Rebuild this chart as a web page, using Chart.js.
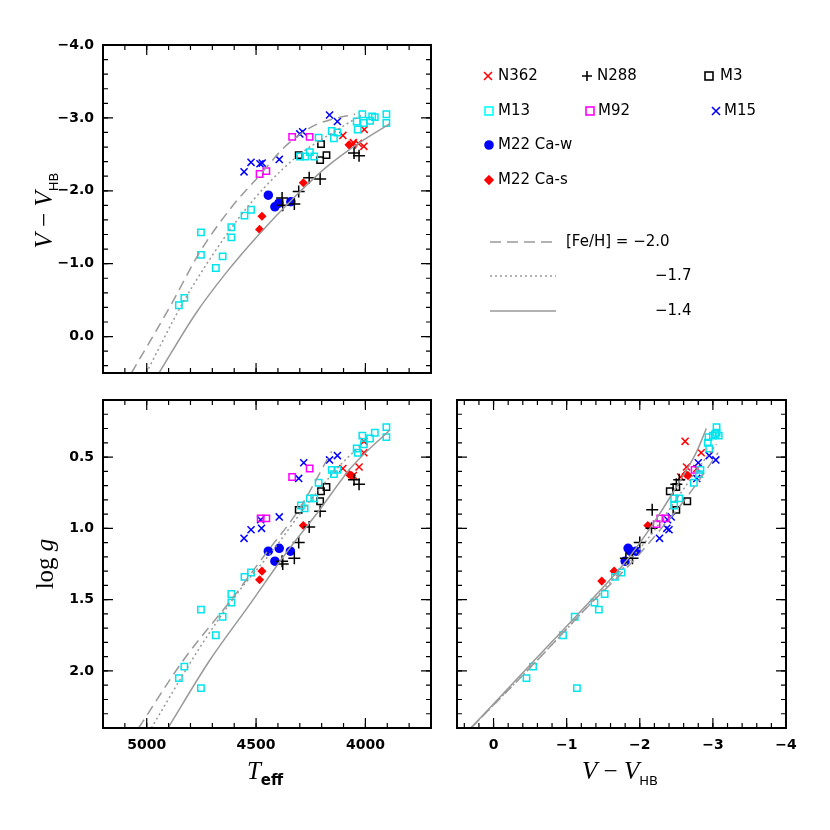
<!DOCTYPE html>
<html><head><meta charset="utf-8">
<script src="https://cdn.jsdelivr.net/npm/chart.js@4/dist/chart.umd.min.js"></script>
<style>
body{margin:0;width:830px;height:830px;background:#fff;position:relative;overflow:hidden;font-family:"DejaVu Sans",sans-serif}
canvas{position:absolute;left:0;top:0}
.t{position:absolute;white-space:nowrap;color:#000}
.ax{font-family:"Liberation Serif",serif;font-size:25px}
.lg{position:absolute;font-size:15px;font-family:"DejaVu Sans",sans-serif;white-space:nowrap}
svg{position:absolute}
</style></head><body>
<canvas id="c1" width="830" height="830"></canvas>
<canvas id="c2" width="830" height="830"></canvas>
<canvas id="c3" width="830" height="830"></canvas>

<div class="t ax" style="left:-20px;top:195px;transform:rotate(-90deg);width:130px;text-align:center"><i>V</i> − <i>V</i><sub style="font-size:13px;font-family:'DejaVu Sans'">HB</sub></div>
<div class="t ax" style="left:-15px;top:550px;transform:rotate(-90deg);width:120px;text-align:center">log <i>g</i></div>
<div class="t ax" style="left:205px;top:757px;width:120px;text-align:center"><i>T</i><sub style="font-size:15px;font-family:'DejaVu Sans';font-weight:bold">eff</sub></div>
<div class="t ax" style="left:555px;top:757px;width:130px;text-align:center"><i>V</i> − <i>V</i><sub style="font-size:13px;font-family:'DejaVu Sans'">HB</sub></div>

<svg width="830" height="830" style="left:0;top:0">
 <g stroke-width="1.6" fill="none">
  <path d="M484 72 l8 8 M492 72 l-8 8" stroke="#ff0000"/>
  <path d="M587 71 v10 M582 76 h10" stroke="#000"/>
  <rect x="705" y="72" width="8" height="8" stroke="#000"/>
  <rect x="485" y="107" width="8" height="8" stroke="#00ffff"/>
  <rect x="586" y="107" width="8" height="8" stroke="#ff00ff"/>
  <path d="M712 107 l8 8 M720 107 l-8 8" stroke="#0000ff"/>
  <circle cx="489" cy="145" r="4" fill="#0000ff" stroke="#0000ff"/>
  <path d="M489 176 l4 4 l-4 4 l-4 -4z" fill="#ff0000" stroke="#ff0000"/>
  <path d="M490 242 H556" stroke="#999" stroke-dasharray="11,6"/>
  <path d="M490 276 H556" stroke="#999" stroke-dasharray="2,3"/>
  <path d="M490 311 H556" stroke="#999"/>
 </g>
</svg>
<div class="lg" style="left:498px;top:66px">N362</div>
<div class="lg" style="left:597px;top:66px">N288</div>
<div class="lg" style="left:720px;top:66px">M3</div>
<div class="lg" style="left:498px;top:101px">M13</div>
<div class="lg" style="left:598px;top:101px">M92</div>
<div class="lg" style="left:724px;top:101px">M15</div>
<div class="lg" style="left:498px;top:135px">M22 Ca-w</div>
<div class="lg" style="left:498px;top:170px">M22 Ca-s</div>
<div class="lg" style="left:566px;top:232px">[Fe/H] = −2.0</div>
<div class="lg" style="left:655px;top:266px">−1.7</div>
<div class="lg" style="left:655px;top:301px">−1.4</div>

<script>
// ---------- tick labels ----------
const teffMajor = [5000, 4500, 4000];
const vhbMajorTop = [-4, -3, -2, -1, 0];
const loggMajor = [0.5, 1.0, 1.5, 2.0];
const vhbMajorBottom = [0, -1, -2, -3, -4];

// ---------- top-left: Teff vs V-VHB ----------
const tM13_T = [4752,4752,4853,4828,4684,4653,4613,4613,4553,4523,4299,4275,4254,4234,4214,4154,4144,4128,4040,4035,4014,4007,3979,3969,3957,3904,3904];
const tM13_V = [-1.43,-1.12,-0.43,-0.53,-0.94,-1.10,-1.50,-1.36,-1.66,-1.74,-2.47,-2.47,-2.53,-2.47,-2.73,-2.82,-2.72,-2.80,-2.95,-2.84,-3.05,-2.93,-2.96,-3.02,-3.01,-3.05,-2.93];
const tM92_T = [4335,4255,4484,4453];
const tM92_V = [-2.74,-2.74,-2.23,-2.27];
const tM3_T = [4305,4203,4178,4207];
const tM3_V = [-2.49,-2.64,-2.49,-2.42];
const tN288_T = [4381,4378,4325,4305,4257,4207,4052,4029];
const tN288_V = [-1.90,-1.80,-1.82,-1.99,-2.18,-2.16,-2.52,-2.48];
const tM15_T = [4555,4523,4482,4472,4394,4300,4287,4164,4128];
const tM15_V = [-2.26,-2.39,-2.37,-2.38,-2.43,-2.78,-2.81,-3.04,-2.95];
const tCaw_T = [4444,4414,4396,4341];
const tCaw_V = [-1.94,-1.78,-1.83,-1.85];
const tCas_T = [4473,4484,4284,4075];
const tCas_V = [-1.65,-1.47,-2.11,-2.63];
const tN362_T = [4103,4005,4055,4032,4007,4058];
const tN362_V = [-2.76,-2.84,-2.66,-2.65,-2.61,-2.63];
const tIso20_T = [5070,4888,4759,4608,4487,4366,4244,4154,4047];
const tIso20_V = [0.50,-0.44,-1.15,-1.79,-2.20,-2.61,-2.88,-2.98,-3.05];
const tIso17_T = [5002,4843,4714,4578,4457,4305,4154,4017];
const tIso17_V = [0.50,-0.42,-1.05,-1.63,-2.06,-2.49,-2.79,-3.04];
const tIso14_T = [4944,4775,4638,4487,4335,4184,4032,3888];
const tIso14_V = [0.50,-0.32,-0.87,-1.40,-1.88,-2.31,-2.65,-2.92];

// ---------- bottom-left: Teff vs log g ----------
const bM13_T = [4752,4752,4853,4828,4684,4653,4613,4613,4553,4523,4295,4278,4254,4234,4214,4154,4144,4128,4040,4035,4014,4007,3979,3957,3904,3904];
const bM13_G = [1.57,2.12,2.05,1.97,1.75,1.62,1.46,1.52,1.34,1.31,0.84,0.86,0.79,0.79,0.68,0.59,0.62,0.59,0.44,0.47,0.35,0.41,0.37,0.33,0.29,0.36];
const bM92_T = [4335,4255,4479,4453];
const bM92_G = [0.64,0.58,0.93,0.93];
const bM3_T = [4305,4203,4178,4207];
const bM3_G = [0.87,0.74,0.71,0.81];
const bN288_T = [4381,4378,4325,4305,4257,4207,4052,4029];
const bN288_G = [1.23,1.25,1.21,1.10,0.99,0.88,0.66,0.69];
const bM15_T = [4555,4523,4479,4475,4394,4305,4282,4164,4128];
const bM15_G = [1.07,1.01,0.94,1.00,0.92,0.65,0.54,0.52,0.49];
const bCaw_T = [4444,4414,4394,4343];
const bCaw_G = [1.16,1.23,1.14,1.16];
const bCas_T = [4473,4484,4284,4075,4063];
const bCas_G = [1.30,1.36,0.98,0.62,0.63];
const bN362_T = [4103,4029,4007,4007,4055];
const bN362_G = [0.58,0.57,0.47,0.39,0.63];
const bIso20_T = [5037,4835,4608,4457,4305,4154];
const bIso20_G = [2.40,1.93,1.49,1.18,0.87,0.46];
const bIso17_T = [4979,4759,4578,4426,4275,4123,4017];
const bIso17_G = [2.40,1.84,1.44,1.16,0.85,0.57,0.41];
const bIso14_T = [4903,4714,4532,4366,4214,4063,3888];
const bIso14_G = [2.40,1.93,1.54,1.18,0.88,0.57,0.31];

// ---------- bottom-right: V-VHB vs log g ----------
const rM13_V = [-0.45,-0.54,-0.95,-1.11,-1.14,-1.38,-1.44,-1.52,-1.66,-1.75,-2.47,-2.54,-2.47,-2.74,-2.83,-2.81,-2.95,-2.93,-2.94,-3.00,-3.05,-3.05,-3.08,-3.03];
const rM13_G = [2.05,1.97,1.75,1.62,2.12,1.52,1.57,1.46,1.34,1.31,0.79,0.79,0.84,0.68,0.59,0.62,0.44,0.40,0.36,0.35,0.33,0.29,0.35,0.34];
const rM92_V = [-2.23,-2.28,-2.35,-2.75];
const rM92_G = [0.97,0.93,0.93,0.59];
const rM3_V = [-2.41,-2.50,-2.50,-2.65];
const rM3_G = [0.74,0.71,0.87,0.81];
const rN288_V = [-1.81,-1.90,-2.00,-2.17,-2.16,-2.50,-2.54];
const rN288_G = [1.21,1.21,1.10,0.87,1.00,0.69,0.66];
const rM15_V = [-2.27,-2.37,-2.40,-2.38,-2.43,-2.78,-2.80,-2.95,-3.04];
const rM15_G = [1.07,1.00,1.01,0.94,0.92,0.65,0.54,0.49,0.52];
const rCaw_V = [-1.80,-1.84,-1.87,-1.95];
const rCaw_G = [1.23,1.14,1.16,1.16];
const rCas_V = [-1.48,-1.65,-2.11,-2.63,-2.66];
const rCas_G = [1.37,1.30,0.98,0.62,0.63];
const rN362_V = [-2.62,-2.64,-2.84,-2.56,-2.78];
const rN362_G = [0.39,0.57,0.47,0.64,0.58];
const rIso20_V = [0.31,-0.55,-1.23,-1.87,-2.23,-2.60,-2.87,-3.07];
const rIso20_G = [2.40,1.95,1.58,1.25,1.04,0.81,0.62,0.47];
const rIso17_V = [0.31,-0.55,-1.23,-1.82,-2.19,-2.55,-2.87,-3.05];
const rIso17_G = [2.40,1.95,1.58,1.25,1.02,0.76,0.53,0.41];
const rIso14_V = [0.31,-0.55,-1.23,-1.78,-2.14,-2.50,-2.78,-2.91];
const rIso14_G = [2.40,1.93,1.56,1.25,1.00,0.71,0.46,0.30];

const zip = (a, b) => a.map((v, i) => ({x: v, y: b[i]}));
const FMT = {
  v1: v => (v === 0 ? 0 : v).toFixed(1).replace('-', '−'),
  int: v => String(v).replace('-', '−'),
  g: v => v.toFixed(1)
};

function pts(xs, ys, style, color, filled, r) {
  return {data: zip(xs, ys), pointStyle: style, pointRadius: r || 4.5, borderColor: color,
    backgroundColor: filled ? color : 'rgba(0,0,0,0)', pointBorderWidth: 1.5, showLine: false};
}
function iso(xs, ys, dash) {
  return {data: zip(xs, ys), showLine: true, pointRadius: 0, borderColor: '#999999', borderWidth: 1.5,
    borderDash: dash, cubicInterpolationMode: 'monotone', fill: false};
}
function sets(p) {
  return [
    iso(p[8][0], p[8][1], [10, 6]), iso(p[9][0], p[9][1], [2, 3]), iso(p[10][0], p[10][1], []),
    pts(p[0][0], p[0][1], 'rect', '#00e5ee', false, 4.5),
    pts(p[1][0], p[1][1], 'rect', '#ff00ff', false, 4.5),
    pts(p[2][0], p[2][1], 'rect', '#000000', false, 4.5),
    pts(p[3][0], p[3][1], 'cross', '#000000', false, 6),
    pts(p[4][0], p[4][1], 'crossRot', '#0000ff', false, 5),
    pts(p[5][0], p[5][1], 'circle', '#0000ff', true, 4),
    pts(p[6][0], p[6][1], 'rectRot', '#ff0000', true, 3.5),
    pts(p[7][0], p[7][1], 'crossRot', '#ff0000', false, 5),
  ];
}

const framePlugin = {
  id: 'frame',
  afterDraw(chart) {
    const o = chart.options.plugins.frame, c = chart.ctx, a = chart.chartArea;
    const X = chart.scales.x, Y = chart.scales.y;
    c.save();
    c.strokeStyle = '#000'; c.lineWidth = 1.2;
    const tick = (axis, vals, len) => {
      vals.forEach(v => {
        c.beginPath();
        if (axis === 'x') { const p = X.getPixelForValue(v);
          c.moveTo(p, a.bottom); c.lineTo(p, a.bottom - len); c.moveTo(p, a.top); c.lineTo(p, a.top + len);
        } else { const p = Y.getPixelForValue(v);
          c.moveTo(a.left, p); c.lineTo(a.left + len, p); c.moveTo(a.right, p); c.lineTo(a.right - len, p); }
        c.stroke();
      });
    };
    const range = (lo, hi, st) => { const r = []; for (let k = Math.ceil(lo / st - 1e-6); k * st <= hi + 1e-9; k++) r.push(+(k * st).toFixed(4)); return r; };
    tick('x', range(Math.min(X.min, X.max), Math.max(X.min, X.max), o.xMinor), 5);
    tick('y', range(Math.min(Y.min, Y.max), Math.max(Y.min, Y.max), o.yMinor), 5);
    tick('x', range(Math.min(X.min, X.max), Math.max(X.min, X.max), o.xMajorStep), 10);
    tick('y', range(Math.min(Y.min, Y.max), Math.max(Y.min, Y.max), o.yMajorStep), 10);
    c.lineWidth = 2;
    c.strokeRect(a.left, a.top, a.right - a.left, a.bottom - a.top);
    c.fillStyle = '#000'; c.font = 'bold 14px "DejaVu Sans"';
    if (o.xLabels) { c.textAlign = 'center'; c.textBaseline = 'top';
      o.xLabels.forEach(v => c.fillText(FMT[o.xFmt](v), X.getPixelForValue(v), a.bottom + 10)); }
    if (o.yLabels) { c.textAlign = 'right'; c.textBaseline = 'middle';
      o.yLabels.forEach(v => c.fillText(FMT[o.yFmt](v), a.left - 9, Y.getPixelForValue(v))); }
    c.restore();
  }
};

function panel(id, area, xs, ys, datasets, frame) {
  new Chart(document.getElementById(id), {
    type: 'scatter',
    data: {datasets},
    options: {
      responsive: false, animation: false, devicePixelRatio: 1,
      layout: {padding: {left: area[0], top: area[1], right: 830 - area[2], bottom: 830 - area[3]}},
      scales: {
        x: Object.assign({type: 'linear', display: false}, xs),
        y: Object.assign({type: 'linear', display: false}, ys)
      },
      plugins: {legend: {display: false}, tooltip: {enabled: false}, frame}
    },
    plugins: [framePlugin]
  });
}

panel('c1', [103, 45, 431, 373], {min: 3700, max: 5200, reverse: true}, {min: -4, max: 0.5, reverse: true},
  sets([[tM13_T, tM13_V], [tM92_T, tM92_V], [tM3_T, tM3_V], [tN288_T, tN288_V], [tM15_T, tM15_V], [tCaw_T, tCaw_V], [tCas_T, tCas_V], [tN362_T, tN362_V], [tIso20_T, tIso20_V], [tIso17_T, tIso17_V], [tIso14_T, tIso14_V]]),
  {xMinor: 100, xMajorStep: 500, yMinor: 0.2, yMajorStep: 1, xLabels: null, yLabels: vhbMajorTop, yFmt: 'v1'});

panel('c2', [103, 400, 431, 728], {min: 3700, max: 5200, reverse: true}, {min: 0.1, max: 2.4, reverse: true},
  sets([[bM13_T, bM13_G], [bM92_T, bM92_G], [bM3_T, bM3_G], [bN288_T, bN288_G], [bM15_T, bM15_G], [bCaw_T, bCaw_G], [bCas_T, bCas_G], [bN362_T, bN362_G], [bIso20_T, bIso20_G], [bIso17_T, bIso17_G], [bIso14_T, bIso14_G]]),
  {xMinor: 100, xMajorStep: 500, yMinor: 0.1, yMajorStep: 0.5, xLabels: teffMajor, xFmt: 'int', yLabels: loggMajor, yFmt: 'g'});

panel('c3', [457, 400, 786, 728], {min: -4, max: 0.5, reverse: true}, {min: 0.1, max: 2.4, reverse: true},
  sets([[rM13_V, rM13_G], [rM92_V, rM92_G], [rM3_V, rM3_G], [rN288_V, rN288_G], [rM15_V, rM15_G], [rCaw_V, rCaw_G], [rCas_V, rCas_G], [rN362_V, rN362_G], [rIso20_V, rIso20_G], [rIso17_V, rIso17_G], [rIso14_V, rIso14_G]]),
  {xMinor: 0.2, xMajorStep: 1, yMinor: 0.1, yMajorStep: 0.5, xLabels: vhbMajorBottom, xFmt: 'int', yLabels: null});
</script>
</body></html>
